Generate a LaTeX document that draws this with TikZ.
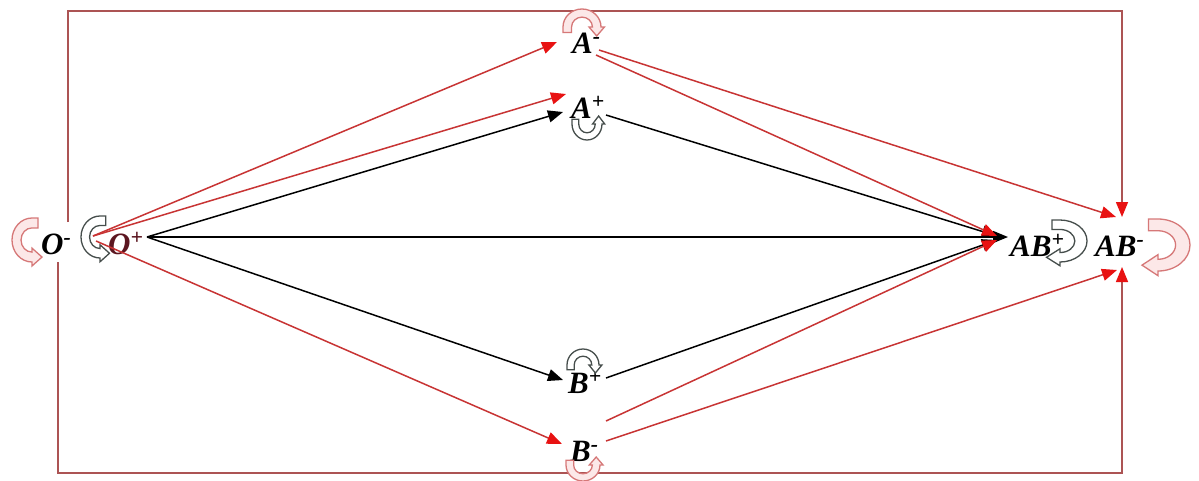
\documentclass[tikz,border=0pt]{standalone}
\usepackage{fontspec}
\setmainfont{Liberation Serif}
\usetikzlibrary{arrows.meta}

\definecolor{edgered}{RGB}{200,52,52}
\definecolor{framered}{RGB}{172,84,84}
\definecolor{tipred}{RGB}{232,18,18}
\definecolor{loopredline}{RGB}{214,120,120}
\definecolor{loopredfill}{RGB}{252,232,232}
\definecolor{loopdark}{RGB}{70,78,76}
\definecolor{labeldark}{RGB}{92,22,32}

\tikzset{
  state/.style={anchor=base west, inner sep=0pt,
    font=\fontsize{31}{33}\selectfont\bfseries\itshape},
  redarrow/.style={draw=edgered, line width=1.5pt,
    -{Triangle[length=15pt,width=12pt,color=tipred]}},
  blackarrow/.style={draw=black, line width=1.5pt,
    -{Triangle[length=15pt,width=12pt]}},
  framearrow/.style={draw=framered, line width=1.5pt,
    -{Triangle[length=15pt,width=12pt,color=tipred]}},
  redloop/.style={draw=loopredline, fill=loopredfill, line width=1.3pt},
  darkloop/.style={draw=loopdark, fill=white, line width=1.3pt},
}

% hollow U-turn arrow: arc at +y, head at the right end pointing to -y
\newcommand\turnarrow[1]{%
  \path[#1] (-1,-0.3) -- (-1,0) arc[start angle=180,end angle=0,radius=1]
    -- (1.18,0) -- (0.775,-0.5) -- (0.37,0) -- (0.55,0)
    arc[start angle=0,end angle=180,radius=0.55] -- (-0.55,-0.3) -- cycle;}

\begin{document}
\begin{tikzpicture}[x=1pt,y=-1pt]
\useasboundingbox (0,0) rectangle (1199,480);
\fill[white] (0,0) rectangle (1199,480);

% states
\node[state] (Om) at (41,254) {O\textsuperscript{-}};
\node[state, text=labeldark] (Op) at (108,254) {O\textsuperscript{+}};
\node[state] (Am) at (572,53) {A\textsuperscript{-}};
\node[state] (Ap) at (571,118) {A\textsuperscript{+}};
\node[state] (Bp) at (568,393) {B\textsuperscript{+}};
\node[state] (Bm) at (570,461) {B\textsuperscript{-}};
\node[state] (ABp) at (1010,256) {AB\textsuperscript{+}};
\node[state] (ABm) at (1095,256) {AB\textsuperscript{-}};

% attachment points of the connectors
\coordinate (OmTop) at (68,222);
\coordinate (OmBot) at (58,262);
\coordinate (OpRed) at (93,236);
\coordinate (OpRedLow) at (96,241);
\coordinate (OpOut) at (147,237);
\coordinate (AmIn) at (557,42);
\coordinate (AmOutA) at (596,55);
\coordinate (AmOutB) at (599,50);
\coordinate (ApInRed) at (566,94);
\coordinate (ApIn) at (563,112);
\coordinate (ApOut) at (606,115);
\coordinate (BpIn) at (563,380);
\coordinate (BpOut) at (606,378);
\coordinate (BmIn) at (562,444);
\coordinate (BmOutA) at (606,421);
\coordinate (BmOutB) at (606,441);
\coordinate (ABpIn) at (1008,237);
\coordinate (ABpInRed) at (997,236);
\coordinate (ABpInRedLow) at (997,240);
\coordinate (ABmInTop) at (1116,217);
\coordinate (ABmInBot) at (1117,270);
\coordinate (ABmTop) at (1122,217);
\coordinate (ABmBot) at (1122,267);

% outer frame transitions
\draw[framearrow] (OmTop) -- (OmTop |- 0,11) -- (ABmTop |- 0,11) -- (ABmTop);
\draw[framearrow] (OmBot) -- (OmBot |- 0,473) -- (ABmBot |- 0,473) -- (ABmBot);

% self-loops
\turnarrow{redloop, shift={(582,27)}, xscale=19, yscale=-18}
\turnarrow{darkloop, shift={(587,124)}, xscale=15, yscale=16}
\turnarrow{darkloop, shift={(583,365)}, xscale=16, yscale=-16}
\turnarrow{redloop, shift={(583,465)}, xscale=17, yscale=16}
\turnarrow{redloop, shift={(32,240)}, rotate=-90, xscale=22, yscale=20}
\turnarrow{darkloop, shift={(100,237)}, rotate=-90, xscale=21, yscale=19}
\turnarrow{darkloop, shift={(1060,241)}, xscale=-1, rotate=-90, xscale=21, yscale=27}
\turnarrow{redloop, shift={(1158,245)}, xscale=-1, rotate=-90, xscale=26, yscale=32}

% black transitions
\draw[blackarrow] (OpOut) -- (ApIn);
\draw[blackarrow] (OpOut) -- (ABpIn);
\draw[blackarrow] (OpOut) -- (BpIn);
\draw[blackarrow] (ApOut) -- (ABpInRed);
\draw[blackarrow] (BpOut) -- (ABpInRedLow);

% red transitions
\draw[redarrow] (OpRed) -- (AmIn);
\draw[redarrow] (OpRed) -- (ApInRed);
\draw[redarrow] (OpRedLow) -- (BmIn);
\draw[redarrow] (AmOutA) -- (ABpInRed);
\draw[redarrow] (AmOutB) -- (ABmInTop);
\draw[redarrow] (BmOutA) -- (ABpInRedLow);
\draw[redarrow] (BmOutB) -- (ABmInBot);
\end{tikzpicture}
\end{document}
